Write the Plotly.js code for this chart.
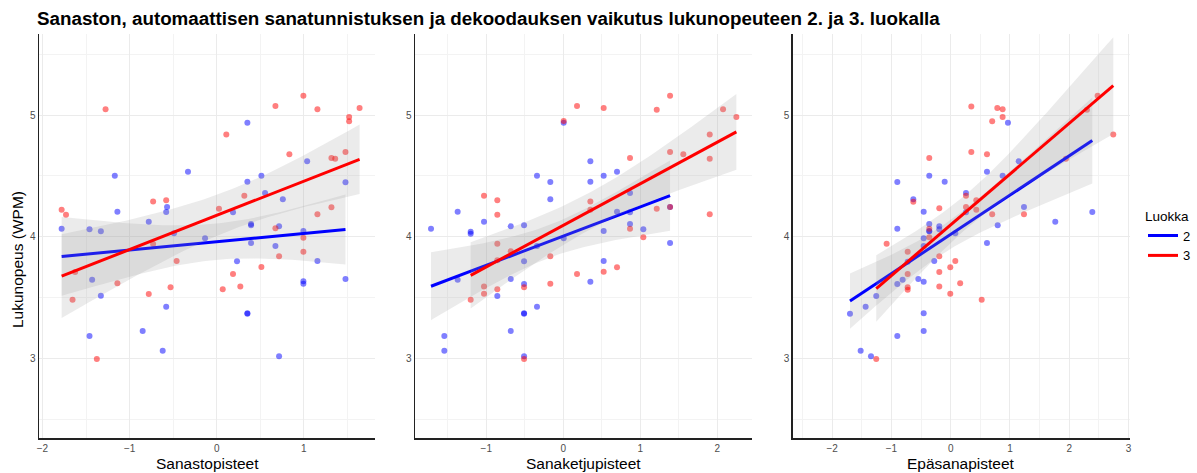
<!DOCTYPE html>
<html><head><meta charset="utf-8">
<script src="https://cdn.plot.ly/plotly-3.0.1.min.js"></script>
<style>html,body{margin:0;padding:0;background:#fff}</style>
</head><body><div id="chart" style="width:1197px;height:473px"></div>
<script>
// ---- Data ----
const groups = ["2", "3"];
const xTitles = ["Sanastopisteet", "Sanaketjupisteet", "Epäsanapisteet"];
const yTitle = "Lukunopeus (WPM)";
const chartTitle = "Sanaston, automaattisen sanatunnistuksen ja dekoodauksen vaikutus lukunopeuteen 2. ja 3. luokalla";
const legendTitle = "Luokka";

// Panel 1: Sanastopisteet
const vocabX_g2 = [-1.17,-0.33,-1.14,-0.57,-0.58,-0.78,-1.78,-1.46,-1.33,-0.49,-0.134,-1.43,-1.33,-0.58,-1.46,-0.85,-0.62,0.352,1.038,0.352,0.513,0.555,1.478,0.759,0.187,0.394,0.394,0.716,0.995,0.394,0.674,0.233,1.156,0.995,0.995,1.478,0.352,0.352,0.716];
const vocabY_g2 = [4.50,4.534,4.205,4.244,4.203,4.123,4.066,4.061,4.044,4.028,3.987,3.647,3.515,3.425,3.184,3.225,3.063,4.937,4.62,4.452,4.501,4.359,4.447,4.307,4.20,4.104,4.094,4.085,4.047,3.948,3.924,3.798,3.80,3.634,3.614,3.652,3.37,3.367,3.017];
const vocabX_g3 = [-1.276,-1.78,-1.73,-0.73,-0.58,-0.73,-0.46,-1.625,-1.14,-1.655,-0.78,-0.53,-1.376,0.995,0.674,1.156,1.64,1.52,1.52,0.11,0.834,1.317,1.36,1.478,0.317,0.026,1.317,1.156,0.674,0.995,0.995,0.716,0.513,0.187,0.271,0.069];
const vocabY_g3 = [5.047,4.222,4.181,4.29,4.30,3.94,3.80,3.71,3.617,3.482,3.53,3.584,2.995,5.159,5.074,5.047,5.058,4.984,4.948,4.84,4.677,4.647,4.641,4.696,4.337,4.23,4.242,4.184,4.069,3.992,3.877,3.839,3.751,3.694,3.59,3.568];

// Panel 2: Sanaketjupisteet
const chainX_g2 = [0.005,-0.342,-0.169,-0.169,-1.372,-1.03,-1.718,-1.203,-1.203,-0.683,-0.51,0.005,-0.342,-0.51,-1.372,-0.683,-0.51,-0.857,-0.342,-0.51,-0.51,-1.545,-0.683,-1.545,-0.51,0.351,0.351,0.524,0.697,0.866,0.697,0.866,1.386,0.866,0.524,1.039,1.386,0.524,0.351];
const chainY_g2 = [4.937,4.50,4.449,4.307,4.205,4.123,4.066,4.041,4.025,4.085,4.094,3.987,3.924,3.798,3.647,3.652,3.611,3.513,3.425,3.37,3.367,3.184,3.225,3.063,3.017,4.62,4.452,4.501,4.534,4.359,4.205,4.20,4.244,4.104,4.047,4.061,3.948,3.80,3.63];
const chainX_g3 = [0.178,0.005,-1.03,-0.857,-0.857,-0.857,-0.683,-0.857,-0.169,0.178,-0.169,-1.03,-1.03,-0.857,-1.203,-0.51,-0.51,0.524,1.213,1.386,2.074,2.247,1.901,0.866,1.386,1.558,1.901,0.351,0.351,1.213,1.386,1.901,0.866,1.039,0.524,0.697];
const chainY_g3 = [5.074,4.951,4.337,4.299,4.181,3.942,3.88,3.806,3.839,3.694,3.614,3.59,3.532,3.568,3.482,3.584,2.995,5.058,5.044,5.159,5.047,4.984,4.84,4.647,4.696,4.677,4.641,4.29,4.222,4.23,4.244,4.184,4.066,3.995,3.712,3.749];

// Panel 3: Epäsanapisteet
const pseudoX_g2 = [-0.9,-0.361,-0.101,-0.63,-0.455,-0.361,-0.361,-0.361,-0.192,-0.192,-0.9,-0.455,-0.455,0.078,-0.277,-0.725,-0.546,-0.455,-0.81,-0.9,-1.255,-1.434,-1.698,-0.455,-0.9,-0.455,-1.518,-1.344,0.966,1.147,0.612,0.876,0.258,0.258,1.236,2.388,1.764,0.793,0.612];
const pseudoY_g2 = [4.449,4.50,4.452,4.307,4.205,4.104,4.047,4.044,4.085,4.061,4.066,3.987,3.924,4.028,3.80,3.795,3.652,3.63,3.647,3.611,3.513,3.425,3.367,3.37,3.184,3.225,3.063,3.017,4.937,4.62,4.534,4.501,4.359,4.20,4.244,4.203,4.123,4.094,3.948];
const pseudoX_g3 = [-0.361,-0.63,-0.192,-0.361,-0.361,-1.08,-0.725,-0.192,0.078,-0.007,-0.725,-0.192,-0.725,-0.725,-0.192,-0.007,0.16,-1.255,0.348,0.786,0.876,0.876,0.70,2.478,2.298,2.742,0.348,0.612,1.944,0.258,0.432,0.258,0.432,0.70,1.236,0.523];
const pseudoY_g3 = [4.647,4.288,4.233,4.066,3.995,3.942,3.877,3.839,3.80,3.749,3.694,3.71,3.584,3.564,3.59,3.532,3.617,2.995,5.071,5.058,5.047,4.984,4.948,5.159,5.044,4.84,4.696,4.677,4.641,4.337,4.299,4.244,4.222,4.184,4.184,3.482];

const xTickVals = [[-2,-1,0,1],[-1,0,1,2],[-2,-1,0,1,2,3]];
const yTickVals = [3,4,5];

// ---- Styling ----
const FONT = "Liberation Sans, Arial, sans-serif";
const colors = {"2": "#0000FF", "3": "#FF0000"};
const pointColors = {"2": "rgba(0,0,255,0.5)", "3": "rgba(255,0,0,0.5)"};
const W = 1197, H = 473;
const px = v => v / W, py = v => 1 - v / H;
const xDomains = [[px(39), px(375)], [px(415), px(752)], [px(792.7), px(1130)]];
const yDomain = [py(438.3), py(34)];
const xRanges = [[-2.04, 1.817], [-1.926, 2.45], [-2.664, 3.024]];
const yRange = [2.343, 5.666];

// ---- linear model with 95% CI (like geom_smooth(method="lm")) ----
function tq975(df) {
  const z = 1.959964;
  const g1 = (Math.pow(z,3) + z) / 4;
  const g2 = (5*Math.pow(z,5) + 16*Math.pow(z,3) + 3*z) / 96;
  const g3 = (3*Math.pow(z,7) + 19*Math.pow(z,5) + 17*Math.pow(z,3) - 15*z) / 384;
  return z + g1/df + g2/(df*df) + g3/(df*df*df);
}
function lmFit(xs, ys) {
  const n = xs.length;
  const mx = xs.reduce((a,b)=>a+b,0)/n, my = ys.reduce((a,b)=>a+b,0)/n;
  let sxx = 0, sxy = 0;
  for (let i=0;i<n;i++){ sxx += (xs[i]-mx)**2; sxy += (xs[i]-mx)*(ys[i]-my); }
  const b = sxy/sxx, a = my - b*mx;
  let sse = 0;
  for (let i=0;i<n;i++){ sse += (ys[i]-a-b*xs[i])**2; }
  const s = Math.sqrt(sse/(n-2)), t = tq975(n-2);
  const lo = Math.min(...xs), hi = Math.max(...xs);
  const gx = [], fy = [], up = [], dn = [];
  for (let k=0;k<80;k++){
    const x = lo + (hi-lo)*k/79;
    const yh = a + b*x;
    const se = s*Math.sqrt(1/n + (x-mx)**2/sxx);
    gx.push(x); fy.push(yh); up.push(yh + t*se); dn.push(yh - t*se);
  }
  return {gx, fy, up, dn};
}

const panels = [
  {"2": [vocabX_g2, vocabY_g2], "3": [vocabX_g3, vocabY_g3]},
  {"2": [chainX_g2, chainY_g2], "3": [chainX_g3, chainY_g3]},
  {"2": [pseudoX_g2, pseudoY_g2], "3": [pseudoX_g3, pseudoY_g3]}
];

const traces = [];
panels.forEach((p, i) => {
  const xa = i === 0 ? "x" : "x" + (i+1);
  const ya = i === 0 ? "y" : "y" + (i+1);
  groups.forEach(g => {
    traces.push({type:"scatter", mode:"markers", x:p[g][0], y:p[g][1], xaxis:xa, yaxis:ya,
      marker:{size:6, color:pointColors[g], line:{width:0}}, showlegend:false, hoverinfo:"skip"});
  });
  groups.forEach(g => {
    const f = lmFit(p[g][0], p[g][1]);
    traces.push({type:"scatter", mode:"lines", x:f.gx.concat(f.gx.slice().reverse()),
      y:f.up.concat(f.dn.slice().reverse()), fill:"toself", fillcolor:"rgba(153,153,153,0.2)",
      line:{width:0}, xaxis:xa, yaxis:ya, showlegend:false, hoverinfo:"skip"});
    traces.push({type:"scatter", mode:"lines", x:f.gx, y:f.fy, xaxis:xa, yaxis:ya,
      line:{color:colors[g], width:3}, name:g, legendgroup:g, showlegend:i===0});
  });
});

const layout = {
  width: W, height: H,
  margin:{l:0,r:0,t:0,b:0},
  paper_bgcolor:"#fff", plot_bgcolor:"#fff",
  font:{family:FONT, color:"#000"},
  title:{text:chartTitle, x:px(37), xanchor:"left", y:py(18), yanchor:"middle",
    font:{family:FONT, size:18.8, weight:"bold", color:"#000"}},
  legend:{x:px(1143), xanchor:"left", y:py(203), yanchor:"top", bgcolor:"rgba(0,0,0,0)",
    title:{text:legendTitle, font:{size:13.5, color:"#000"}}, font:{size:13, color:"#000"},
    itemwidth:30, tracegroupgap:0},
  annotations:[
    {text:yTitle, xref:"paper", yref:"paper", x:px(17), y:py(260), textangle:-90, showarrow:false,
      font:{size:15.5, color:"#000"}, xanchor:"center", yanchor:"middle"}
  ]
};
xTitles.forEach((t,i)=>{
  layout.annotations.push({text:t, xref:"paper", yref:"paper", x:(xDomains[i][0]+xDomains[i][1])/2,
    y:py(463), showarrow:false, font:{size:15.5, color:"#000"}, xanchor:"center", yanchor:"middle"});
});
for (let i=0;i<3;i++){
  const sx = i===0 ? "" : String(i+1);
  layout["xaxis"+sx] = {domain:xDomains[i], range:xRanges[i], anchor:"y"+sx, tickvals:xTickVals[i],
    showline:true, linecolor:"#222", linewidth:1.5, mirror:false, zeroline:false, ticks:"",
    showgrid:true, gridcolor:"#ebebeb", gridwidth:1,
    minor:{tick0:0.5, dtick:1, showgrid:true, gridcolor:"#f3f3f3", gridwidth:1},
    tickfont:{size:10, color:"#4d4d4d"}, fixedrange:true};
  layout["yaxis"+sx] = {domain:yDomain, range:yRange, anchor:"x"+sx, tickvals:yTickVals,
    showline:true, linecolor:"#222", linewidth:1.5, zeroline:false, ticks:"",
    showgrid:true, gridcolor:"#ebebeb", gridwidth:1,
    minor:{tick0:0.5, dtick:1, showgrid:true, gridcolor:"#f3f3f3", gridwidth:1},
    tickfont:{size:10, color:"#4d4d4d"}, fixedrange:true};
}

Plotly.newPlot("chart", traces, layout, {displayModeBar:false, staticPlot:true});
</script>
</body></html>
